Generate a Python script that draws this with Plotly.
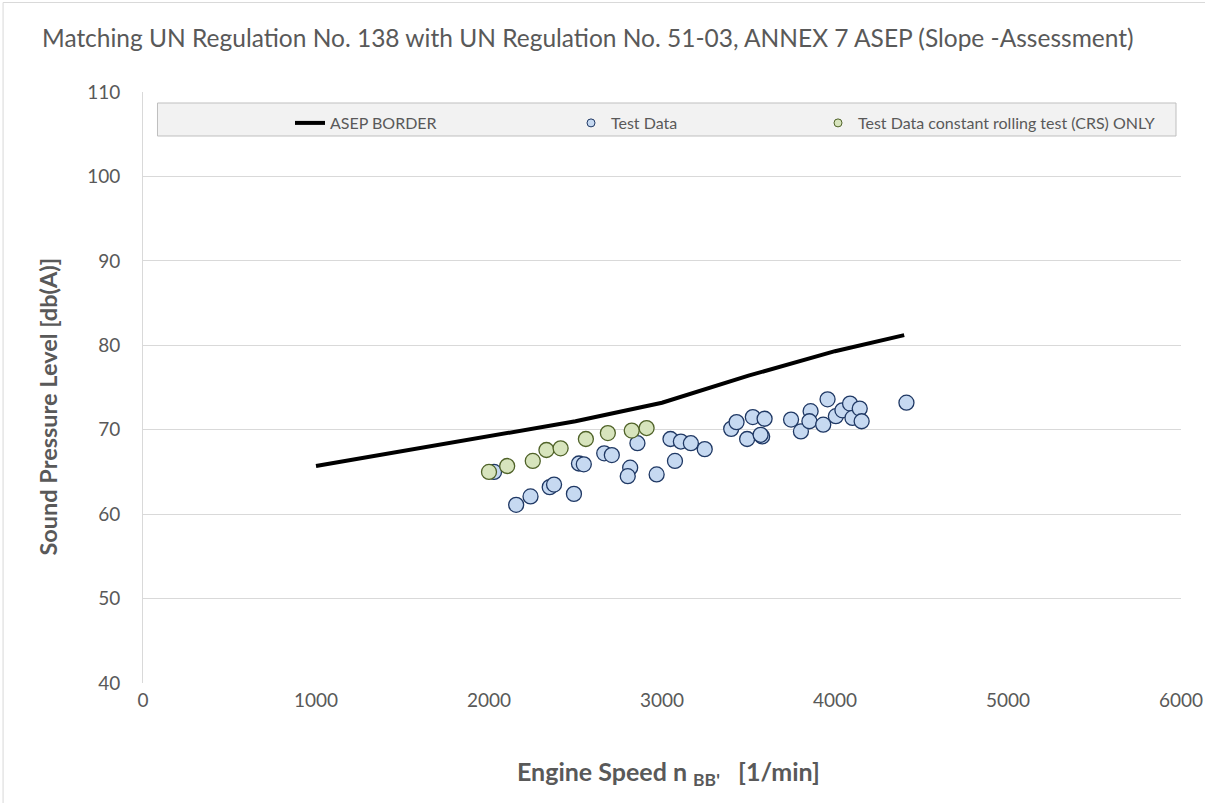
import plotly.graph_objects as go

# ASEP border line
border_x = [1000, 1500, 2000, 2500, 3000, 3500, 4000, 4400]
border_y = [65.7, 67.5, 69.2, 71.0, 73.2, 76.4, 79.3, 81.2]

# Test data
test_x = [2029, 2157, 2240, 2351, 2376, 2491, 2520, 2548, 2666, 2710,
          2816, 2802, 2858, 2969, 3049, 3075, 3109, 3167, 3247, 3400,
          3431, 3525, 3492, 3579, 3570, 3593, 3746, 3803, 3859, 3852,
          3932, 3957, 4005, 4043, 4087, 4101, 4143, 4154, 4413]
test_y = [65.0, 61.1, 62.1, 63.2, 63.5, 62.4, 66.0, 65.9, 67.2, 67.0,
          65.5, 64.5, 68.4, 64.7, 68.9, 66.3, 68.6, 68.4, 67.7, 70.1,
          70.9, 71.5, 68.9, 69.2, 69.4, 71.3, 71.2, 69.8, 72.2, 71.0,
          70.6, 73.6, 71.6, 72.3, 73.1, 71.4, 72.5, 71.0, 73.2]

# Test data constant rolling test (CRS) only
crs_x = [2000, 2105, 2253, 2332, 2414, 2560, 2687, 2825, 2911]
crs_y = [65.0, 65.7, 66.3, 67.6, 67.8, 68.9, 69.6, 69.9, 70.2]

x_ticks = [0, 1000, 2000, 3000, 4000, 5000, 6000]
y_ticks = [40, 50, 60, 70, 80, 90, 100, 110]

FONT = "Lato, 'Open Sans', sans-serif"
GREY = "#595959"

fig = go.Figure()

fig.add_trace(go.Scatter(x=border_x, y=border_y, mode="lines",
                         line=dict(color="black", width=4),
                         showlegend=False, hoverinfo="skip"))
fig.add_trace(go.Scatter(x=test_x, y=test_y, mode="markers",
                         marker=dict(size=15, color="#C6D9F1",
                                     line=dict(color="#1F3864", width=1.3)),
                         showlegend=False))
fig.add_trace(go.Scatter(x=crs_x, y=crs_y, mode="markers",
                         marker=dict(size=15, color="#D7E4BD",
                                     line=dict(color="#4F6228", width=1.3)),
                         showlegend=False))

# legend entries
fig.add_trace(go.Scatter(x=[None], y=[None], mode="lines", name="ASEP BORDER",
                         line=dict(color="black", width=4), legend="legend"))
fig.add_trace(go.Scatter(x=[None], y=[None], mode="markers", name="Test Data",
                         marker=dict(size=8, color="#C6D9F1",
                                     line=dict(color="#1F3864", width=1)),
                         legend="legend2"))
fig.add_trace(go.Scatter(x=[None], y=[None], mode="markers",
                         name="Test Data constant rolling test (CRS) ONLY",
                         marker=dict(size=8, color="#D7E4BD",
                                     line=dict(color="#4F6228", width=1)),
                         legend="legend3"))

L, R, T, B = 142.5, 24, 92, 120
W, H = 1205, 803
pw, ph = W - L - R, H - T - B

def px2paper_x(px):
    return (px - L) / pw

def py2paper_y(py):
    return (H - B - py) / ph

leg_common = dict(bgcolor="rgba(0,0,0,0)", borderwidth=0,
                  font=dict(family=FONT, size=16, color=GREY),
                  yanchor="middle", xanchor="left", orientation="h",
                  xref="container", yref="container")

fig.update_layout(
    width=W, height=H,
    margin=dict(l=L, r=R, t=T, b=B, pad=0, autoexpand=False),
    paper_bgcolor="white", plot_bgcolor="white",
    font=dict(family=FONT, color=GREY),
    title=dict(text="Matching UN Regulation No. 138 with UN Regulation No. 51-03, ANNEX 7 ASEP (Slope -Assessment)",
               x=42 / W, xanchor="left", xref="container",
               y=1 - 38 / H, yanchor="middle", yref="container",
               font=dict(family=FONT, size=24.5, color=GREY)),
    legend=dict(x=290 / W, y=1 - 123 / H, **leg_common),
    legend2=dict(x=571 / W, y=1 - 123 / H, **leg_common),
    legend3=dict(x=818 / W, y=1 - 123 / H, **leg_common),
    xaxis=dict(range=[0, 6000], tickvals=x_ticks, ticktext=[str(v) for v in x_ticks],
               showgrid=False, zeroline=False, showline=False, automargin=False,
               ticks="", ticklabelstandoff=4, ticklabeloverflow="allow",
               tickfont=dict(family=FONT, size=19, color=GREY)),
    yaxis=dict(range=[40, 110], tickvals=y_ticks, ticktext=[str(v) for v in y_ticks],
               showgrid=True, gridcolor="#D9D9D9", gridwidth=1, automargin=False,
               zeroline=False, showline=True, linecolor="#D9D9D9", linewidth=1,
               ticks="", ticklabelstandoff=18, ticklabeloverflow="allow",
               tickfont=dict(family=FONT, size=19, color=GREY)),
    annotations=[
        dict(text="<b>Engine Speed n <sub>BB'</sub>\u00a0\u00a0\u00a0[1/min]</b>",
             xref="paper", yref="paper", x=px2paper_x(668), y=py2paper_y(773),
             xanchor="center", yanchor="middle", showarrow=False,
             font=dict(family=FONT, size=25, color=GREY)),
        dict(text="<b>Sound Pressure Level [db(A)]</b>", textangle=-90,
             xref="paper", yref="paper", x=px2paper_x(47), y=py2paper_y(407),
             xanchor="center", yanchor="middle", showarrow=False,
             font=dict(family=FONT, size=23.5, color=GREY)),
    ],
    shapes=[
        dict(type="rect", xref="paper", yref="paper",
             x0=px2paper_x(157), x1=px2paper_x(1176),
             y0=py2paper_y(136), y1=py2paper_y(103),
             fillcolor="#F2F2F2", line=dict(color="#BFBFBF", width=1), layer="below"),
        dict(type="rect", xref="paper", yref="paper",
             x0=px2paper_x(2.5), x1=px2paper_x(1230),
             y0=py2paper_y(830), y1=py2paper_y(2.5),
             fillcolor="rgba(0,0,0,0)", line=dict(color="#D9D9D9", width=1), layer="below"),
    ],
)

fig.write_html("out.html", config={"displayModeBar": False},
               post_script="document.body.style.margin='0';document.body.style.overflow='hidden';")
